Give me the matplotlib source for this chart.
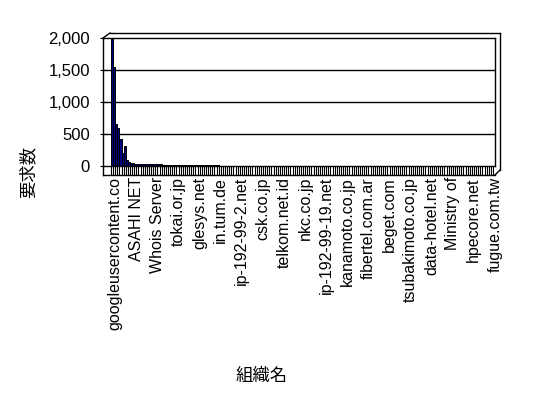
import matplotlib
matplotlib.use("Agg")
import matplotlib.pyplot as plt
from matplotlib.lines import Line2D
from matplotlib.transforms import ScaledTranslation

plt.rcParams["font.family"] = ["Liberation Sans", "Noto Sans CJK JP", "DejaVu Sans"]

# request counts per organisation, sorted descending (181 organisations)
request_counts = [
    1990, 1550, 650, 590, 420, 205, 310, 100, 70, 50,
    42, 36, 31, 30, 29, 28, 27, 27, 26, 26,
    25, 25, 24, 24, 23, 23, 22, 22, 21, 21,
    20, 12, 12, 11, 11, 11, 10, 10, 10, 10,
    9, 9, 9, 9, 9, 8, 8, 8, 8, 8,
    8, 7, 7, 7, 7, 7, 7, 7, 6, 6,
    6, 6, 6, 6, 6, 6, 6, 5, 5, 5,
    5, 5, 5, 5, 5, 5, 5, 5, 5, 5,
    5, 4, 4, 4, 4, 4, 4, 4, 4, 4,
    4, 4, 4, 4, 4, 4, 4, 4, 4, 4,
    4, 4, 3, 3, 3, 3, 3, 3, 3, 3,
    3, 3, 3, 3, 3, 3, 3, 3, 3, 3,
    3, 3, 3, 3, 3, 3, 3, 3, 3, 3,
    3, 3, 3, 3, 3, 3, 2, 2, 2, 2,
    2, 2, 2, 2, 2, 2, 2, 2, 2, 2,
    2, 2, 2, 2, 2, 2, 2, 2, 2, 2,
    2, 2, 2, 2, 2, 2, 2, 2, 2, 2,
    2, 2, 2, 2, 2, 2, 2, 2, 1, 1,
    1,
]

# only every 10th organisation name is shown on the axis
label_step = 10
labeled_orgs = [
    "googleusercontent.co", "ASAHI NET", "Whois Server", "tokai.or.jp",
    "glesys.net", "in.tum.de", "ip-192-99-2.net", "csk.co.jp",
    "telkom.net.id", "nkc.co.jp", "ip-192-99-19.net", "kanamoto.co.jp",
    "fibertel.com.ar", "beget.com", "tsubakimoto.co.jp", "data-hotel.net",
    "Ministry of", "hpecore.net", "fugue.com.tw",
]

y_ticks = [0, 500, 1000, 1500, 2000]


def px(x, y, W=548, H=398):
    return x / W, 1 - y / H


def main():
    W, H = 548, 398
    fig = plt.figure(figsize=(W / 100, H / 100), dpi=100)
    fig.patch.set_facecolor("white")

    left, right, top, bottom = 103, 495, 38, 166
    ax = fig.add_axes([left / W, 1 - bottom / H, (right - left) / W, (bottom - top) / H])

    n = len(request_counts)
    xs = list(range(n))
    slot = (493 - 111) / n
    ax.set_xlim(-0.5 - (111 - left) / slot, n - 0.5 + (right - 493) / slot)
    ax.set_ylim(0, 2000)

    for v in y_ticks[1:-1]:
        ax.axhline(v, color="black", lw=1, zorder=1)

    ax.bar(xs, request_counts, width=1.0, color="#000080",
           edgecolor="black", linewidth=0.7, zorder=2)

    for s in ax.spines.values():
        s.set_color("black")
        s.set_linewidth(1)

    ax.set_yticks(y_ticks)
    ax.set_yticklabels([f"{v:,}" for v in y_ticks])
    ax.tick_params(axis="y", direction="out", length=2.5, width=0.8,
                   labelsize=12, pad=7)

    label_pos = list(range(0, n, label_step))
    ax.set_xticks(label_pos)
    ax.set_xticklabels(labeled_orgs, rotation=90, ha="center", va="top")
    ax.set_xticks([k - 0.5 for k in range(n + 1)], minor=True)
    ax.tick_params(axis="x", which="major", length=0, labelsize=11.5, pad=8)
    ax.tick_params(axis="x", which="minor", direction="out", length=6.5, width=0.8)
    shift = ScaledTranslation(3 / 100, 0, fig.dpi_scale_trans)
    for lab in ax.get_xticklabels():
        lab.set_transform(lab.get_transform() + shift)

    # 3D-like frame around the plot area
    frame = [
        [(103, 166), (103, 175)],
        [(103, 175), (495, 175)],
        [(495, 175), (500, 170)],
        [(103, 38), (110, 33)],
        [(110, 33), (500, 33)],
        [(500, 33), (500, 170)],
    ]
    for (x0, y0), (x1, y1) in frame:
        a, b = px(x0, y0)
        c, d = px(x1, y1)
        fig.add_artist(Line2D([a, c], [b, d], color="black", lw=1,
                              transform=fig.transFigure))

    fx, fy = px(28, 172)
    fig.text(fx, fy, "要求数", rotation=90, ha="center", va="center", fontsize=12.5)
    fx, fy = px(262, 376)
    fig.text(fx, fy, "組織名", ha="center", va="center", fontsize=12.5)

    fig.savefig("out.png", dpi=100, facecolor="white")


if __name__ == "__main__":
    main()
